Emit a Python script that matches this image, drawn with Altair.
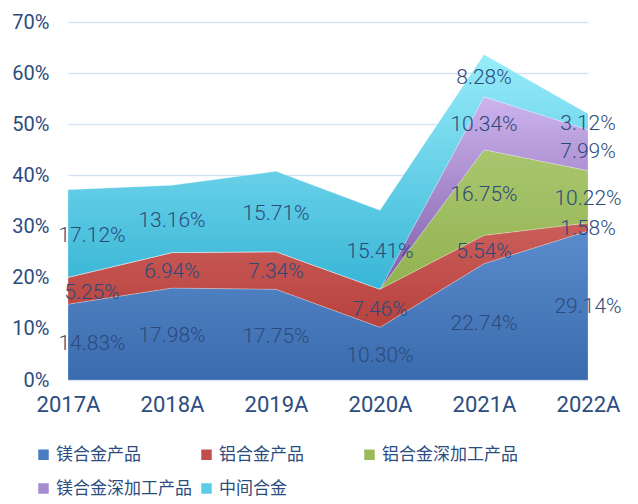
import altair as alt
import pandas as pd

years = ["2017A", "2018A", "2019A", "2020A", "2021A", "2022A"]
series = ["镁合金产品", "铝合金产品", "铝合金深加工产品", "镁合金深加工产品", "中间合金"]
mg_products = [14.83, 17.98, 17.75, 10.30, 22.74, 29.14]
al_products = [5.25, 6.94, 7.34, 7.46, 5.54, 1.58]
al_deep = [0, 0, 0, 0, 16.75, 10.22]
mg_deep = [0, 0, 0, 0, 10.34, 7.99]
master_alloy = [17.12, 13.16, 15.71, 15.41, 8.28, 3.12]

values = [mg_products, al_products, al_deep, mg_deep, master_alloy]
legend_colors = ["#4A7CC0", "#C0504D", "#9BBB59", "#A58BD0", "#5CCDE8"]
gradients = [
    ("#5A8BCC", "#3A6BAE"),
    ("#CB5E5A", "#B7413D"),
    ("#A9C66F", "#93B250"),
    ("#CDB4EE", "#7D5CA8"),
    ("#97ECFA", "#38B5D6"),
]

rows = []
for i, yr in enumerate(years):
    base = 0.0
    for k, s in enumerate(series):
        v = values[k][i]
        rows.append({"year": yr, "series": s, "order": k, "value": v,
                     "y0": base, "y1": base + v, "mid": base + v / 2,
                     "label": f"{v:.2f}%"})
        base += v
df = pd.DataFrame(rows)

xenc = alt.X("year:N", sort=years, title=None,
             scale=alt.Scale(type="point", padding=0),
             axis=alt.Axis(labelAngle=0, ticks=False, domain=False, grid=False,
                           labelFont="Roboto", labelFontSize=22, labelFontWeight="normal",
                           labelColor="#2B4C7E", labelPadding=14))
yscale = alt.Scale(domain=[0, 70], nice=False)

base = alt.Chart(df)

layers = []
for k, s in enumerate(series):
    top, bot = gradients[k]
    area = base.transform_filter(alt.datum.series == s).mark_area(
        color=alt.Gradient(gradient="linear",
                           stops=[alt.GradientStop(color=top, offset=0),
                                  alt.GradientStop(color=bot, offset=1)],
                           x1=0, x2=0, y1=0, y2=1),
        stroke="#FFFFFF", strokeWidth=0.4, strokeOpacity=0.6,
    ).encode(
        x=xenc,
        y=alt.Y("y1:Q", scale=yscale, title=None,
                axis=alt.Axis(values=[0, 10, 20, 30, 40, 50, 60, 70],
                              labelExpr="datum.value + '%'", ticks=False, domain=False,
                              grid=True, gridColor="#D5E2F2", gridWidth=1.5,
                              labelFont="Roboto", labelFontSize=20,
                              labelColor="#2B4C7E", labelPadding=19)),
        y2="y0:Q",
    )
    layers.append(area)

legend_layer = base.mark_point(filled=True, size=0, opacity=0).encode(
    x=alt.X("year:N", sort=years),
    y=alt.Y("mid:Q", scale=yscale),
    color=alt.Color("series:N", sort=series,
                    scale=alt.Scale(domain=series, range=legend_colors),
                    legend=alt.Legend(orient="none", legendX=-33, legendY=424,
                                      direction="horizontal", columns=3, gridAlign="all",
                                      columnPadding=6, rowPadding=16, padding=0,
                                      symbolType="square", symbolSize=110,
                                      symbolOpacity=1, symbolStrokeWidth=0,
                                      labelFont="Noto Sans CJK SC", labelFontSize=17,
                                      labelColor="#2B4C7E", labelOffset=4,
                                      labelLimit=300, title=None)),
)

label_style = dict(font="Roboto", fontSize=21, fontWeight=300, color="#2D4A7A")

labels_first = base.transform_filter(
    (alt.datum.value > 0) & (alt.datum.year == "2017A")
).mark_text(dx=24, dy=2, **label_style).encode(
    x=alt.X("year:N", sort=years), y=alt.Y("mid:Q", scale=yscale), text="label:N")

labels_rest = base.transform_filter(
    (alt.datum.value > 0) & (alt.datum.year != "2017A")
).mark_text(dy=2, **label_style).encode(
    x=alt.X("year:N", sort=years), y=alt.Y("mid:Q", scale=yscale), text="label:N")

chart = alt.layer(*layers, legend_layer, labels_first, labels_rest).properties(
    width=520, height=358,
    autosize=alt.AutoSizeParams(type="none"),
    padding={"left": 60, "top": 14, "right": 42, "bottom": 124},
).configure_view(stroke=None)

chart.save("out.html", embed_options={"renderer": "svg", "actions": False})
